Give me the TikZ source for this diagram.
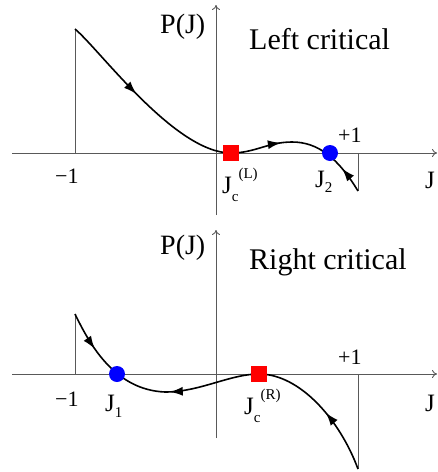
\documentclass[tikz,border=0pt]{standalone}
\usepackage{fontspec}
\setmainfont{Liberation Serif}
\usetikzlibrary{arrows.meta,decorations.markings}
\newcommand\myTitle{\fontsize{30}{34}\selectfont}
\newcommand\myPJ{\fontsize{28}{32}\selectfont}
\newcommand\myLab{\fontsize{25}{28}\selectfont}
\newcommand\myNum{\fontsize{22}{26}\selectfont}
\newcommand\mySub{\fontsize{15}{17}\selectfont}
\begin{document}
\begin{tikzpicture}[x=1pt,y=-1pt,
  axisline/.style={line width=0.9pt, draw=black!65, -{To[length=5pt,width=8pt]}},
  guide/.style={line width=0.9pt, draw=black!65},
  curve/.style={line width=1.6pt, draw=black},
  fwd/.style={postaction={decorate}, decoration={markings, mark=at position #1 with {\arrow{Latex[length=13pt,width=9pt]}}}},
  bwd/.style={postaction={decorate}, decoration={markings, mark=at position #1 with {\arrowreversed{Latex[length=13pt,width=9pt]}}}},
  crit/.style={fill=red, minimum size=16pt, inner sep=0pt, draw=none},
  stab/.style={fill=blue, circle, minimum size=16pt, inner sep=0pt, draw=none},
  lab/.style={inner sep=0pt, anchor=base west}]
\useasboundingbox (0,0) rectangle (438,472);

% ---------- top panel ----------
\coordinate (ta0) at (12,153); \coordinate (ta1) at (437,153);
\coordinate (tv0) at (216,215); \coordinate (tv1) at (216,5);
\draw[axisline] (ta0) -- (ta1);
\draw[axisline] (tv0) -- (tv1);
\coordinate (tm1) at (75,153); \coordinate (tstart) at (75,29);
\coordinate (tp1) at (358,153); \coordinate (tend) at (358,191);
\draw[guide] (tm1) -- (tstart);
\draw[guide] (tp1) -- (tend);
\coordinate (tjc) at (231,153); \coordinate (tmax) at (292,142);
\draw[curve, fwd=0.44] (tstart) .. controls (100,50) and (175,153) .. (tjc);
\draw[curve, fwd=0.82] (tjc) .. controls (255,153) and (268,142) .. (tmax);
\draw[curve, bwd=0.68] (tmax) .. controls (318,142) and (338,158) .. (tend);
\node[crit] (sqL) at (tjc) {};
\node[stab] (dotJ2) at (330,153) {};

\node[lab] (pjT) at (160,33) {\myPJ P(J)};
\node[lab] (titT) at (249,49) {\myTitle Left critical};
\node[lab] (m1T) at (55,183) {\myNum −1};
\node[lab] (p1T) at (338,142) {\myNum +1};
\node[lab] (jT) at (425,188) {\myLab J};
\node[lab] (jcL) at (222,193) {\myLab J\raisebox{-8pt}{\mySub c}\raisebox{15pt}{\mySub (L)}};
\node[lab] (j2) at (315,187) {\myLab J\raisebox{-5pt}{\mySub 2}};

% ---------- bottom panel ----------
\coordinate (ba0) at (12,374); \coordinate (ba1) at (437,374);
\coordinate (bv0) at (216,438); \coordinate (bv1) at (216,230);
\draw[axisline] (ba0) -- (ba1);
\draw[axisline] (bv0) -- (bv1);
\coordinate (bm1) at (75,374); \coordinate (bstart) at (75,314);
\coordinate (bp1) at (358,374); \coordinate (bend) at (358,469);
\draw[guide] (bm1) -- (bstart);
\draw[guide] (bp1) -- (bend);
\coordinate (bmin) at (165,392); \coordinate (bjc) at (259,374);
\draw[curve, fwd=0.32] (bstart) .. controls (90,345) and (115,390) .. (bmin);
\draw[curve, bwd=0.05] (bmin) .. controls (200,392) and (230,374) .. (bjc);
\draw[curve, bwd=0.55] (bjc) .. controls (300,374) and (340,420) .. (bend);
\node[stab] (dotJ1) at (117,374) {};
\node[crit] (sqR) at (bjc) {};

\node[lab] (pjB) at (160,254) {\myPJ P(J)};
\node[lab] (titB) at (249,269) {\myTitle Right critical};
\node[lab] (m1B) at (55,406) {\myNum −1};
\node[lab] (p1B) at (338,364) {\myNum +1};
\node[lab] (jB) at (425,411) {\myLab J};
\node[lab] (jcR) at (244,414) {\myLab J\raisebox{-8pt}{\mySub c}\raisebox{15pt}{\mySub (R)}};
\node[lab] (j1) at (105,411) {\myLab J\raisebox{-6pt}{\mySub 1}};
\end{tikzpicture}
\end{document}
